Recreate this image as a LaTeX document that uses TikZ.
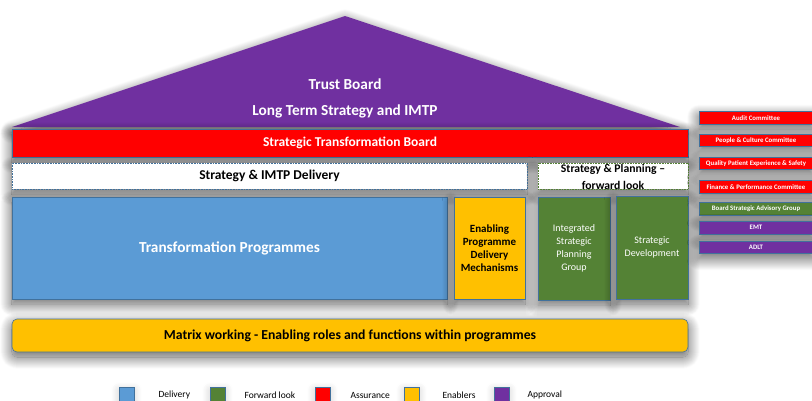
\documentclass[tikz,border=0pt]{standalone}
\usepackage{fontspec}
\setmainfont{Carlito}
\usetikzlibrary{shadows.blur}

\definecolor{approval}{HTML}{7030A0}
\definecolor{assurance}{HTML}{FF0000}
\definecolor{delivery}{HTML}{5B9BD5}
\definecolor{enablers}{HTML}{FFC000}
\definecolor{forward}{HTML}{548235}
\definecolor{edge}{HTML}{41719C}

\begin{document}
\begin{tikzpicture}[x=1pt, y=-1pt]
    % Define styles
    \tikzset{
        shade/.style={
            blur shadow={shadow xshift=0pt, shadow yshift=-5pt,
                shadow blur radius=12pt, shadow blur steps=24, shadow opacity=65}
        },
        block/.style={
            draw=edge,
            line width=0.6pt,
            anchor=north west,
            inner sep=1pt,
            outer sep=0pt,
            align=center,
            shade
        },
        bigtext/.style={
            font=\bfseries\fontsize{15.3}{17}\selectfont
        },
        midtext/.style={
            font=\bfseries\fontsize{13.5}{16}\selectfont
        },
        smalltext/.style={
            font=\fontsize{10}{13}\selectfont
        },
        tinytext/.style={
            font=\bfseries\fontsize{6.8}{7}\selectfont
        },
        keybox/.style={
            draw=edge,
            line width=0.6pt,
            anchor=north west,
            minimum width=15pt,
            minimum height=15pt,
            outer sep=0pt,
            blur shadow={shadow xshift=0pt, shadow yshift=-3pt,
                shadow blur radius=8pt, shadow blur steps=16, shadow opacity=20}
        },
        legtext/.style={
            anchor=west,
            font=\fontsize{9.5}{10}\selectfont
        }
    }

    \useasboundingbox (0,0) rectangle (812,400);

    % Roof: Trust Board
    \fill[approval, shade] (12,127) -- (345,16) -- (680,127) -- cycle;
    \node[bigtext, text=white] (trust) at (345,84) {Trust Board};
    \node[bigtext, text=white] (longterm) at (345,111) {Long Term Strategy and IMTP};

    % Strategic Transformation Board
    \node[block, fill=assurance, text=white, midtext, minimum width=676pt, minimum height=28pt]
        (stb) at (12,129) {Strategic Transformation Board};

    % Delivery and planning headers
    \node[block, fill=white, draw=edge, densely dotted, midtext, minimum width=515pt, minimum height=26pt]
        (imtp) at (12,163) {Strategy \& IMTP Delivery};
    \node[block, fill=white, draw=forward, densely dotted, minimum width=150pt, minimum height=26pt]
        (plan) at (538,163) {};
    \node[font=\bfseries\fontsize{11.7}{17}\selectfont, align=center] (plantext)
        at ([yshift=-0.5pt]plan.center) {Strategy \& Planning --\\forward look};

    % Programme row
    \node[block, fill=delivery, text=white, bigtext, minimum width=435pt, minimum height=102pt]
        (prog) at (12,197) {Transformation Programmes};
    \node[block, fill=enablers, font=\bfseries\fontsize{11}{13}\selectfont, minimum width=71pt, minimum height=102pt]
        (enab) at (454,197) {Enabling\\Programme\\Delivery\\Mechanisms};
    \node[block, fill=forward, text=white, smalltext, minimum width=72pt, minimum height=103pt]
        (isp) at (538,197) {Integrated\\Strategic\\Planning\\Group};
    \node[block, fill=forward, text=white, smalltext, minimum width=72pt, minimum height=103pt]
        (sdev) at (616,196) {Strategic\\Development};

    % Matrix working
    \node[block, fill=enablers, rounded corners=5pt, font=\bfseries\fontsize{13.7}{16}\selectfont,
        minimum width=676pt, minimum height=33pt]
        (matrix) at (12,319) {Matrix working - Enabling roles and functions within programmes};

    % Committees
    \foreach \y/\col/\name [count=\i] in {111.5/assurance/Audit Committee,
            134/assurance/People \& Culture Committee,
            157/assurance/Quality Patient Experience \& Safety,
            180.5/assurance/Finance \& Performance Committee,
            202.5/forward/Board Strategic Advisory Group,
            221.5/approval/EMT,
            241/approval/ADLT}
        \node[block, fill=\col, text=white, tinytext, minimum width=114pt, minimum height=12.5pt]
            (comm\i) at (699,\y) {\name};

    % Legend
    \foreach \sx/\tx/\col/\lab in {119/155/delivery/Delivery, 210/241/forward/Forward look,
            315/347/assurance/Assurance, 404/439/enablers/Enablers, 494/524/approval/Approval} {
        \node[keybox, fill=\col] (key-\col) at (\sx,387) {};
        \node[legtext] (lab-\col) at (\tx,395) {\lab};
    }

\end{tikzpicture}
\end{document}
